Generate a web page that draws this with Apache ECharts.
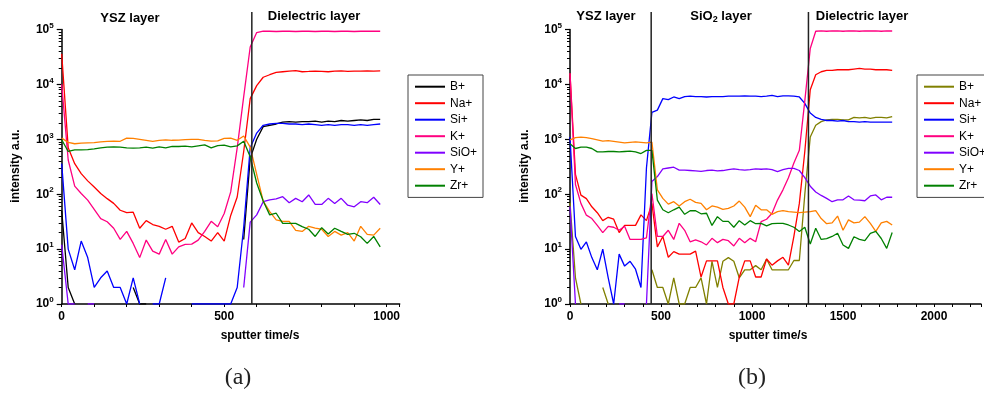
<!DOCTYPE html>
<html><head><meta charset="utf-8">
<script src="https://cdn.jsdelivr.net/npm/echarts@6/dist/echarts.min.js"></script>
<style>html,body{margin:0;padding:0;background:#fff}#c{width:984px;height:398px}</style>
</head><body><div id="c"></div><script>
// ---------- Panel (a) ----------
const timeA = [0,20,40,60,80,100,120,140,160,180,200,220,240,260,280,300,320,340,360,380,400,420,440,460,480,500,520,540,560,580,600,620,640,660,680,700,720,740,760,780,800,820,840,860,880,900,920,940,960,980];
const bA   = [50,2,1,null,null,null,null,null,null,null,null,2,1,1,null,null,null,null,null,null,null,null,null,null,null,null,null,null,15,450,1000,1700,1800,1900,2050,2100,2050,2100,2100,2150,2050,2150,2100,2200,2150,2200,2250,2200,2300,2300];
const naA  = [36000,700,360,237,175,135,103,83,68,51,46,47,24,33,28,26,23,26,13.4,15.6,30,20,17,14,20,14,41,89,600,5500,9500,13500,15000,16500,17000,17500,17800,17000,17200,17500,17300,17000,17400,17600,17300,17500,17400,17600,17500,17600];
const siA  = [360,10,4.2,14,7,2,3,4,2,2,1,3,1,null,1,1,3,null,null,null,1,1,1,1,1,1,1,2,25,700,1300,1800,1900,1950,1950,1900,1900,1850,1900,1850,1800,1850,1800,1850,1850,1800,1850,1800,1850,1900];
const kA   = [10000,420,140,103,78,53,36,31.5,24,15,21,12.7,7,14.6,9.2,8.1,15,8.1,11,12.2,12.3,14.6,21,32,25.5,44.6,110,700,6000,48000,88000,93000,93000,92000,93000,93000,92000,93000,93000,92000,93000,93000,92000,93000,93000,92000,93000,93000,93000,93000];
const sioA = [12,1,1,null,1,1,null,null,null,null,null,null,null,null,null,null,null,null,null,null,null,null,null,null,null,null,null,null,2,31,42,73,79,82,90,70,84,73,97,65,65,84,68,84,63,59,73,70,88,65];
const yA   = [1050,880,830,850,860,870,900,920,930,920,1050,1040,1000,960,920,960,980,960,970,990,1000,1000,960,930,940,1040,1050,960,1150,720,230,75,48,34,32,32,22,21,26,24,23,17,21,18,20,14,26,18.5,18,24];
const zrA  = [980,600,640,640,650,670,700,720,730,720,700,690,700,720,690,730,700,740,740,750,730,760,790,700,770,780,730,760,920,480,160,75,42,45,29.5,29.5,29.5,25.7,23,17,24.6,18.8,24,21,18.6,19.4,16.8,12.7,17,11];
const dividerA = [585];

// ---------- Panel (b) ----------
const timeB = [0,30,60,90,120,150,180,210,240,270,300,330,360,390,420,450,480,510,540,570,600,630,660,690,720,750,780,810,840,870,900,930,960,990,1020,1050,1080,1110,1140,1170,1200,1230,1260,1290,1320,1350,1380,1410,1440,1470,1500,1530,1560,1590,1620,1650,1680,1710,1740,1770];
const bB   = [70,3,1,null,null,null,2,1,null,null,null,null,null,null,null,4.2,2,2,1,3,1,1,2,2,3,1,6,2,6,7,6,3,4.2,4.2,5,4.2,6.6,4.2,4.2,4.2,4.2,6.2,6.2,100,1100,1800,2100,2250,2300,2300,2250,2250,2500,2450,2500,2400,2500,2500,2450,2600];
const naB  = [16000,230,96,83,59,46,33,38,35,20,27,27,27,42,33,68,11,17,7.1,9,8.1,8.1,8.1,9.2,3.1,6.1,6.1,6.1,2,1,1,3.1,6.1,6.1,3.1,3.1,6.6,5.1,6.1,7.1,5.1,17,68,600,8000,15000,17000,18000,18000,18500,18500,18500,19000,19500,19000,19000,18500,18500,18500,18000];
const siB  = [1100,17,9.9,13.5,7,4.2,10,3,1,8.1,4.9,6,4.3,2,300,3100,3400,5500,5300,5900,5500,6000,6100,6000,6000,5900,6000,6000,6000,6100,6100,6100,6200,6100,6100,6000,6100,6300,6000,6200,6200,6100,5900,4500,3000,2500,2300,2200,2200,2150,2200,2100,2100,2050,2100,2050,2050,2050,2050,2050];
const kB   = [16000,150,68,41.5,36,27,20,26,25,22,26,15,15,15,16,103,17,17,22,15,29.5,22,13.6,14.7,13.6,11.9,15.7,13.1,15,14.2,11.4,15.7,13.1,15.7,13.6,31.6,35,45,78,120,200,370,630,5000,45000,93000,94000,93000,94000,94000,93000,94000,94000,93000,94000,94000,94000,93000,94000,94000];
const sioB = [60,1,null,null,null,null,null,null,null,1,1,null,null,null,1,170,210,290,300,310,275,275,270,265,260,270,275,265,270,280,290,280,275,280,290,285,290,280,257,280,295,295,270,200,140,110,95,84,73,79,79,93,79,78,76,93,97,79,88,88];
const yB   = [980,1070,1100,1070,1030,980,930,950,920,890,860,880,900,880,860,890,120,84,66,73,61,73,81,71,68,52,61,58,53,55,61,75,58,39,63,52,52,43,48,50,48,47,46,47,48,50,36,29,30,40,22,34,30,31,39,29.5,21,30,32,27.5];
const zrB  = [830,680,720,720,680,590,590,600,600,590,600,610,590,550,630,630,78,52,46,52,58,43,50,50,44,45,27,39,32,32,25,33,27.5,33,29,29.5,26.5,29,29.5,29.5,27.5,25,21,25,12.4,24,15,15.5,17,19.4,11.9,10.3,16.8,15,14.2,19.4,21,15.6,10.3,20];
const dividerB = [446, 1310];

const seriesNames = ['B+','Na+','Si+','K+','SiO+','Y+','Zr+'];
const colorsA = ['#000000','#ff0000','#0000ff','#ff0080','#8000ff','#ff8000','#008000'];
const colorsB = ['#808000','#ff0000','#0000ff','#ff0080','#8000ff','#ff8000','#008000'];
const xTickLabels = [0,500,1000,1500,2000];
const yDecades = [0,1,2,3,4,5];

const FONT = '"Liberation Sans", Arial, sans-serif';
const chart = echarts.init(document.getElementById('c'), null, {renderer:'canvas'});

function pairs(t, v){ return t.map((x,i)=>[x, v[i]==null ? '-' : v[i]]); }
function mk(name, t, v, color, xi, yi){
  return {type:'line', name, data:pairs(t,v), xAxisIndex:xi, yAxisIndex:yi, symbol:'none', showSymbol:false,
    lineStyle:{color, width:1.3}, itemStyle:{color}, animation:false, clip:true, connectNulls:false};
}
const valsA = [bA,naA,siA,kA,sioA,yA,zrA];
const valsB = [bB,naB,siB,kB,sioB,yB,zrB];
const series = [];
seriesNames.forEach((n,i)=>series.push(mk(n, timeA, valsA[i], colorsA[i], 0, 0)));
seriesNames.forEach((n,i)=>series.push(mk(n+' (b)', timeB, valsB[i], colorsB[i], 1, 3)));

const minorVals = [];
for (let d=0; d<5; d++) for (let k=2; k<=9; k++) minorVals.push(d + Math.log10(k));

function xAxis(gi, max){
  return {type:'value', gridIndex:gi, min:0, max:max, interval:100,
    axisLine:{show:true, onZero:false, lineStyle:{color:'#000', width:1.5}},
    axisTick:{show:true, length:3, lineStyle:{color:'#000', width:1}},
    axisLabel:{formatter:v=> xTickLabels.indexOf(v)>=0 ? String(v) : '', margin:7, color:'#000', fontWeight:'bold', fontSize:12, fontFamily:FONT},
    splitLine:{show:false}};
}
function yAxes(gi){
  return [
    {type:'log', gridIndex:gi, min:1, max:100000, logBase:10, show:false},
    {type:'value', gridIndex:gi, min:0, max:5, interval:1, position:'left',
      axisLine:{show:true, onZero:false, lineStyle:{color:'#000', width:1.5}},
      axisTick:{show:true, length:5, lineStyle:{color:'#000', width:1.2}},
      axisLabel:{margin:8, formatter:v=> yDecades.indexOf(v)>=0 ? '{b|10}{s|'+v+'}' : '',
        rich:{b:{fontSize:12, fontWeight:'bold', fontFamily:FONT, color:'#000'},
              s:{fontSize:8, fontWeight:'bold', fontFamily:FONT, color:'#000', padding:[0,0,8,0]}}},
      splitLine:{show:false}},
    {type:'value', gridIndex:gi, min:0, max:5, position:'left',
      axisLine:{show:false}, axisLabel:{show:false},
      axisTick:{show:true, length:3, customValues:minorVals, lineStyle:{color:'#000', width:1}},
      splitLine:{show:false}}
  ];
}

function legend(left, names){
  return {data:names, left:left, top:75, orient:'vertical', itemWidth:30, itemHeight:12, itemGap:4.5,
    padding:[5.7,6,5.7,6], borderColor:'#444', borderWidth:1, selectedMode:false,
    itemStyle:{opacity:0, borderWidth:0}, lineStyle:{width:2},
    formatter:n=>n.replace(' (b)',''), textStyle:{fontFamily:FONT, fontSize:12, color:'#000'}};
}

chart.setOption({
  animation:false,
  backgroundColor:'#fff',
  grid:[{left:61.7, top:29.5, width:338, height:274.5},{left:570, top:29.5, width:414, height:274.5}],
  xAxis:[xAxis(0,1040), xAxis(1,2258)],
  yAxis:[...yAxes(0), ...yAxes(1)],
  legend:[legend(408, seriesNames), legend(917, seriesNames.map(n=>n+' (b)'))],
  series:series
});

function px(xi, v){ return chart.convertToPixel({xAxisIndex:xi}, v); }
function py(yi, v){ return chart.convertToPixel({yAxisIndex:yi}, v); }
const g = [];
function vline(xi, yi, t){
  const x = px(xi, t), yb = py(yi, 1), yt = py(yi, 100000) - 17.5;
  g.push({type:'line', shape:{x1:x, y1:yt, x2:x, y2:yb}, style:{stroke:'#222', lineWidth:1.5}, z:50});
}
dividerA.forEach(t=>vline(0,0,t));
dividerB.forEach(t=>vline(1,3,t));
function txt(x, y, text, font, extra){
  g.push(Object.assign({type:'text', x:x, y:y, z:60, style:Object.assign({text:text, font:font, fill:'#000', align:'center', verticalAlign:'middle'}, extra||{})}));
}
const bold13 = 'bold 13px ' + FONT;
const bold12 = 'bold 12px ' + FONT;
txt(130, 18, 'YSZ layer', bold13);
txt(314, 16, 'Dielectric layer', bold13);
txt(606, 16, 'YSZ layer', bold13);
txt(721, 16, 'SiO{sub|2} layer', bold13, {rich:{sub:{font:'bold 9px '+FONT, padding:[7,0,0,0]}}});
txt(862, 16, 'Dielectric layer', bold13);
txt(260, 336, 'sputter time/s', bold12);
txt(768, 336, 'sputter time/s', bold12);
g.push({type:'text', x:16, y:166, rotation:Math.PI/2, z:60, style:{text:'intensity a.u.', font:bold12, fill:'#000', align:'center', verticalAlign:'middle'}});
g.push({type:'text', x:525, y:166, rotation:Math.PI/2, z:60, style:{text:'intensity a.u.', font:bold12, fill:'#000', align:'center', verticalAlign:'middle'}});
txt(238, 378, '(a)', '24px "Liberation Serif", "DejaVu Serif", serif', {fill:'#222'});
txt(752, 378, '(b)', '24px "Liberation Serif", "DejaVu Serif", serif', {fill:'#222'});
chart.setOption({graphic:g});
</script></body></html>
